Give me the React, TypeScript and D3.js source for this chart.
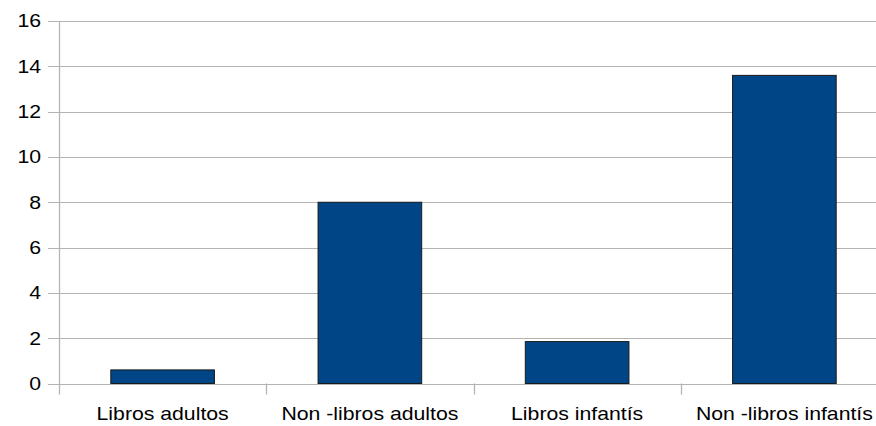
import React from "react";
import * as d3 from "d3";

const categories = ["Libros adultos", "Non -libros adultos", "Libros infantís", "Non -libros infantís"];
const values = [0.6, 8.0, 1.85, 13.6];
const yTicks = [0, 2, 4, 6, 8, 10, 12, 14, 16];

const W = 876;
const H = 426;
const left = 59;
const right = 888;
const top = 21;
const bottom = 383.5;
const SX = 1.18;
const FS = 18;

export default function App() {
  const x = d3.scaleBand<string>().domain(categories).range([left, right]).padding(0);
  const y = d3.scaleLinear().domain([0, 16]).range([bottom, top]);
  const bw = x.bandwidth();
  const font = "'Liberation Sans', Arial, sans-serif";

  return (
    <svg
      width={W}
      height={H}
      style={{ position: "fixed", left: 0, top: 0, background: "#fff" }}
      fontFamily={font}
    >
      <rect x={0} y={0} width={W} height={H} fill="#fff" />
      {yTicks.map((t) => (
        <g key={"g" + t}>
          <line x1={48} x2={W} y1={Math.round(y(t)) + 0.5} y2={Math.round(y(t)) + 0.5} stroke="#b3b3b3" strokeWidth={1} />
          <text
            transform={`translate(41,${y(t)}) scale(${SX},1)`}
            textAnchor="end"
            dy="0.36em"
            fontSize={FS}
            fill="#000"
          >
            {t}
          </text>
        </g>
      ))}
      <line x1={left + 0.5} x2={left + 0.5} y1={top} y2={bottom + 11} stroke="#b3b3b3" strokeWidth={1.25} />
      {categories.slice(1).map((c) => (
        <line
          key={"t" + c}
          x1={Math.round(x(c)!) + 0.5}
          x2={Math.round(x(c)!) + 0.5}
          y1={bottom}
          y2={bottom + 11}
          stroke="#b3b3b3"
          strokeWidth={1.25}
        />
      ))}
      {categories.map((c, i) => (
        <rect
          key={"b" + c}
          x={x(c)! + bw * 0.25}
          y={y(values[i])}
          width={bw * 0.5}
          height={bottom - y(values[i])}
          fill="#004586"
          stroke="#1a1a1a"
          strokeWidth={1}
        />
      ))}
      {categories.map((c) => (
        <text
          key={"l" + c}
          transform={`translate(${x(c)! + bw / 2},420) scale(${SX},1)`}
          textAnchor="middle"
          fontSize={FS}
          fill="#000"
        >
          {c}
        </text>
      ))}
    </svg>
  );
}
